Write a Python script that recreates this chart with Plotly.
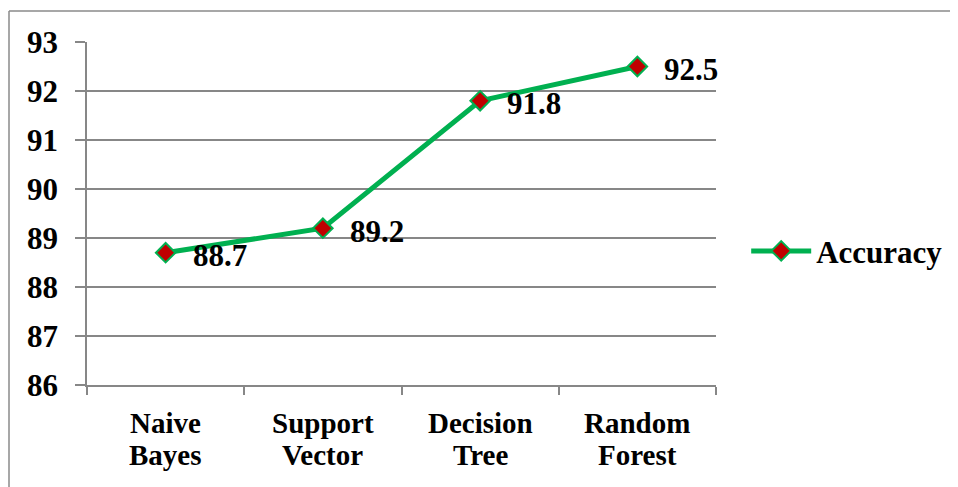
import plotly.graph_objects as go

categories = ["Naive<br>Bayes", "Support<br>Vector", "Decision<br>Tree", "Random<br>Forest"]
accuracy = [88.7, 89.2, 91.8, 92.5]
value_labels = ["88.7", "89.2", "91.8", "92.5"]
y_ticks = [86, 87, 88, 89, 90, 91, 92, 93]

# page body has an 8px margin, so the figure is 8px smaller and shifted
OFF = 8
W, H = 958 - OFF, 487 - OFF
L, R, T, B = 87 - OFF, 242, 42 - OFF, 102
pw, ph = W - L - R, H - T - B

FONT = "Liberation Serif"
FS = 31
grey = "#878787"

fig = go.Figure()
fig.add_trace(go.Scatter(
    x=categories, y=accuracy, mode="lines+markers", name="<b>Accuracy</b>",
    line=dict(color="#00B050", width=5),
    marker=dict(symbol="diamond", size=15, color="#C00000",
                line=dict(color="#00B050", width=2)),
))

annotations = []
for c, v, t in zip(categories, accuracy, value_labels):
    annotations.append(dict(x=c, y=v, text="<b>%s</b>" % t, showarrow=False,
                            xanchor="left", yanchor="middle", xshift=25, yshift=-3,
                            font=dict(family=FONT, size=FS, color="black")))

# category labels, two lines each, tighter line spacing than plotly default
for c in categories:
    for i, part in enumerate(c.split("<br>")):
        annotations.append(dict(x=c, y=0, xref="x", yref="paper", text="<b>%s</b>" % part,
                                showarrow=False, xanchor="center", yanchor="middle",
                                yshift=-(38 + 32 * i),
                                font=dict(family=FONT, size=29, color="black")))

# outer border: only left and top edges are visible in the reference
bx0 = (9 - OFF - L) / pw
by1 = 1 + (T - (11 - OFF)) / ph
border = dict(color="#8a8a8a", width=1.5)
shapes = [
    dict(type="line", xref="paper", yref="paper", x0=bx0, x1=(W + 60 - L) / pw,
         y0=by1, y1=by1, line=border),
    dict(type="line", xref="paper", yref="paper", x0=bx0, x1=bx0,
         y0=by1, y1=-(B + 60) / ph, line=border),
]

fig.update_layout(
    width=W, height=H,
    margin=dict(l=L, r=R, t=T, b=B, autoexpand=False),
    paper_bgcolor="white", plot_bgcolor="white",
    showlegend=True,
    legend=dict(x=1.048, y=0.39, xanchor="left", yanchor="middle",
                font=dict(family=FONT, size=FS, color="black"),
                itemwidth=60, bgcolor="rgba(0,0,0,0)"),
    annotations=annotations,
    shapes=shapes,
    xaxis=dict(type="category", range=[-0.5, 3.5], showgrid=False,
               showline=True, linecolor=grey, linewidth=1.5,
               ticks="outside", tickson="boundaries", ticklen=8, tickcolor=grey, tickwidth=1.5,
               showticklabels=False),
    yaxis=dict(range=[86, 93], tickvals=y_ticks,
               ticktext=["<b>%d</b>" % v for v in y_ticks],
               showgrid=True, gridcolor=grey, gridwidth=1.5,
               showline=True, linecolor=grey, linewidth=1.5,
               ticks="outside", ticklen=10, tickcolor=grey, tickwidth=1.5,
               tickfont=dict(family=FONT, size=FS, color="black"),
               ticklabelstandoff=11, zeroline=False),
)

fig.write_html("out.html")
